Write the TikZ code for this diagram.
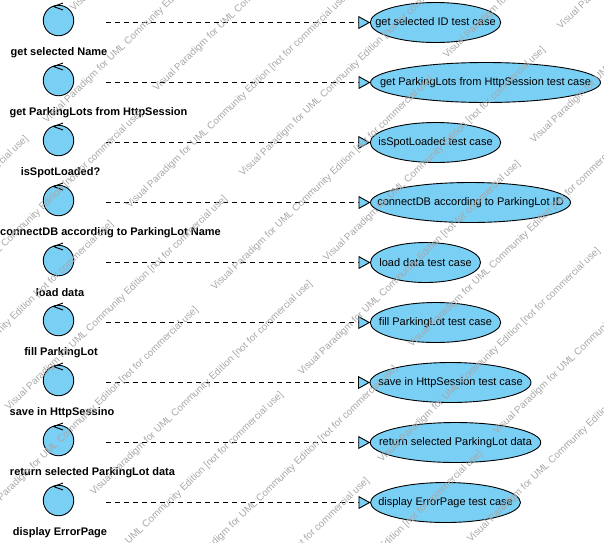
\documentclass[tikz,border=0pt]{standalone}
\usepackage{fontspec}
\setmainfont{Liberation Sans}
\usetikzlibrary{shapes.geometric, arrows.meta}
\definecolor{vpblue}{HTML}{7ACFF5}
\definecolor{vpmark}{HTML}{A8A8A8}
\newcommand{\caselabel}[1]{\makebox[0pt]{\raisebox{-1pt}{#1}}}

\begin{document}
\begin{tikzpicture}
        [
            x=1pt, y=-1pt,
            ctrl/.style = {draw, shape=circle, fill=vpblue, minimum size=30.5pt, inner sep=0pt, line width=0.9pt},
            ctrlname/.style = {font=\fontsize{11}{13}\selectfont\bfseries, inner sep=0pt},
            usecase/.style = {draw, shape=ellipse, fill=vpblue, minimum height=40pt, inner sep=0pt, outer sep=0pt, line width=0.9pt, font=\fontsize{11}{13}\selectfont},
            depend/.style = {dash pattern=on 5pt off 4pt, line width=0.8pt, -{Triangle[open, fill=vpblue, length=12pt, width=13pt, line width=0.9pt]}},
            wmark/.style = {text=vpmark, rotate=44, anchor=west, inner sep=0pt, font=\fontsize{9.9}{11}\selectfont},
            chevron/.style = {line width=0.9pt},
        ]
        \useasboundingbox (0,0) rectangle (604,542);

        \node[ctrl] (c1) at (58.5,20.5)    {};
        \node[ctrl] (c2) at (58.5,80.5)    {};
        \node[ctrl] (c3) at (58.5,140.5)   {};
        \node[ctrl] (c4) at (58.5,200.5)   {};
        \node[ctrl] (c5) at (58.5,260.5)   {};
        \node[ctrl] (c6) at (58.5,320.5)   {};
        \node[ctrl] (c7) at (58.5,380.5)   {};
        \node[ctrl] (c8) at (58.5,440.5)   {};
        \node[ctrl] (c9) at (58.5,500.5)   {};

        \draw [chevron] (63,3) -- (53.5,6.5) -- (63,10);
        \draw [chevron] (63,63) -- (53.5,66.5) -- (63,70);
        \draw [chevron] (63,123) -- (53.5,126.5) -- (63,130);
        \draw [chevron] (63,183) -- (53.5,186.5) -- (63,190);
        \draw [chevron] (63,243) -- (53.5,246.5) -- (63,250);
        \draw [chevron] (63,303) -- (53.5,306.5) -- (63,310);
        \draw [chevron] (63,363) -- (53.5,366.5) -- (63,370);
        \draw [chevron] (63,423) -- (53.5,426.5) -- (63,430);
        \draw [chevron] (63,483) -- (53.5,486.5) -- (63,490);

        \node[ctrlname] (n1) at (59,52.5)     {get selected Name};
        \node[ctrlname] (n2) at (98.5,112.5)  {get ParkingLots from HttpSession};
        \node[ctrlname] (n3) at (60.5,172.5)  {isSpotLoaded?};
        \node[ctrlname] (n4) at (110.5,232.5) {connectDB according to ParkingLot Name};
        \node[ctrlname] (n5) at (60,292.5)    {load data};
        \node[ctrlname] (n6) at (61,352.5)    {fill ParkingLot};
        \node[ctrlname] (n7) at (62,412.5)    {save in HttpSessino};
        \node[ctrlname] (n8) at (92.5,472.5)  {return selected ParkingLot data};
        \node[ctrlname] (n9) at (60,532.5)    {display ErrorPage};

        \node[usecase, minimum width=130.5pt] (t1) at (435.5,22.5)  {\caselabel{get selected ID test case}};
        \node[usecase, minimum width=230pt]   (t2) at (485.5,82.5)  {\caselabel{get ParkingLots from HttpSession test case}};
        \node[usecase, minimum width=130.5pt] (t3) at (435.5,142.5) {\caselabel{isSpotLoaded test case}};
        \node[usecase, minimum width=200pt]   (t4) at (470.5,202.5) {\caselabel{connectDB according to ParkingLot ID}};
        \node[usecase, minimum width=110pt]   (t5) at (425.5,262.5) {\caselabel{load data test case}};
        \node[usecase, minimum width=130.5pt] (t6) at (435.5,322.5) {\caselabel{fill ParkingLot test case}};
        \node[usecase, minimum width=161pt]   (t7) at (450.5,382.5) {\caselabel{save in HttpSession test case}};
        \node[usecase, minimum width=170.5pt] (t8) at (455.5,442.5) {\caselabel{return selected ParkingLot data}};
        \node[usecase, minimum width=150pt]   (t9) at (445.5,502.5) {\caselabel{display ErrorPage test case}};

        \coordinate (s1) at (106,22.5);
        \coordinate (s2) at (106,82.5);
        \coordinate (s3) at (106,142.5);
        \coordinate (s4) at (106,202.5);
        \coordinate (s5) at (106,262.5);
        \coordinate (s6) at (106,322.5);
        \coordinate (s7) at (106,382.5);
        \coordinate (s8) at (106,442.5);
        \coordinate (s9) at (106,502.5);

        \draw [depend] (s1) -- (t1.west);
        \draw [depend] (s2) -- (t2.west);
        \draw [depend] (s3) -- (t3.west);
        \draw [depend] (s4) -- (t4.west);
        \draw [depend] (s5) -- (t5.west);
        \draw [depend] (s6) -- (t6.west);
        \draw [depend] (s7) -- (t7.west);
        \draw [depend] (s8) -- (t8.west);
        \draw [depend] (s9) -- (t9.west);

        \clip (0,0) rectangle (604,542);
        \foreach \i/\xa/\ya in {a/72/10, b/155/90, c/241/175, d/325/260, e/410/346, f/495/433,
                                g/559/28, h/445/57, i/532/142,
                                j/45/122, k/128/207, l/213/289, m/300/374, o/380/461, p/469/541,
                                q/-78/324, r/7/409, s/92/494, u/177/579, v/262/664,
                                w/-192/349, y/-107/434, z/-22/520, aa/63/605, ab/149/691}
            \node[wmark] (w\i) at (\xa,\ya) {Visual Paradigm for UML Community Edition [not for commercial use]};
\end{tikzpicture}
\end{document}
